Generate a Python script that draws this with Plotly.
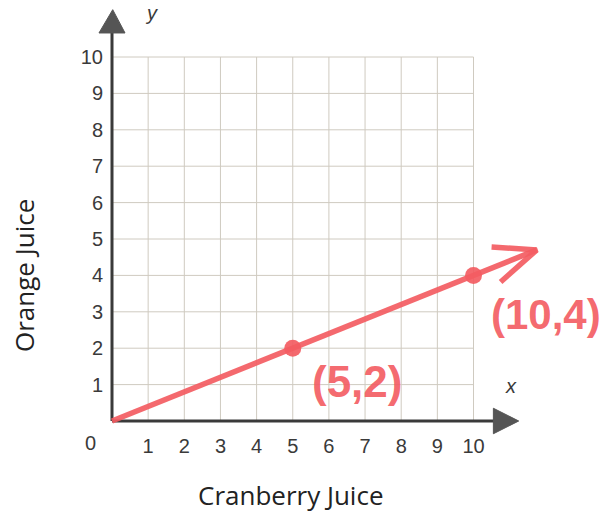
import plotly.graph_objects as go

# data
x_ticks = [1, 2, 3, 4, 5, 6, 7, 8, 9, 10]
y_ticks = [1, 2, 3, 4, 5, 6, 7, 8, 9, 10]
x_tick_labels = [str(v) for v in x_ticks]
y_tick_labels = [str(v) for v in y_ticks]
cranberry = [5, 10]
orange = [2, 4]
point_labels = ["(5,2)", "(10,4)"]
line_x = [0, 11.75]
line_y = [0, 4.7]
arrow_head_x = [10.5, 11.75, 10.75]
arrow_head_y = [4.78, 4.7, 3.82]

RED = "rgba(243,92,98,0.92)"
AX = "#3a3a3a"
GRID = "#cfcac0"
TXT = "#3a3a3a"

PX_X = 36.15  # px per unit
PX_Y = 36.4
X0, Y0 = 112, 421
W, H = 613, 516
xr = [-X0 / PX_X, (W - X0) / PX_X]
yr = [-(H - Y0) / PX_Y, Y0 / PX_Y]

fig = go.Figure()

# grid
gx, gy = [], []
for v in x_ticks:
    gx += [v, v, None]
    gy += [0, 10, None]
for v in y_ticks:
    gx += [0, 10, None]
    gy += [v, v, None]
fig.add_trace(go.Scatter(x=gx, y=gy, mode="lines",
                         line=dict(color=GRID, width=1), hoverinfo="skip"))

# axes lines
fig.add_trace(go.Scatter(x=[0, 0, None, 0, 10.6], y=[10.7, 0, None, 0, 0], mode="lines",
                         line=dict(color=AX, width=3), hoverinfo="skip"))
# axis arrowheads
fig.add_trace(go.Scatter(x=[-0.36, 0.02, 0.36, -0.36], y=[10.66, 11.3, 10.66, 10.66],
                         mode="lines", fill="toself", fillcolor="#555",
                         line=dict(color="#555", width=1), hoverinfo="skip"))
fig.add_trace(go.Scatter(x=[10.55, 11.25, 10.55, 10.55], y=[0.35, 0.0, -0.35, 0.35],
                         mode="lines", fill="toself", fillcolor="#555",
                         line=dict(color="#555", width=1), hoverinfo="skip"))

# red line & arrow
fig.add_trace(go.Scatter(x=line_x, y=line_y, mode="lines",
                         line=dict(color=RED, width=5.5), hoverinfo="skip"))
fig.add_trace(go.Scatter(x=arrow_head_x, y=arrow_head_y, mode="lines",
                         line=dict(color=RED, width=5.5), hoverinfo="skip"))
fig.add_trace(go.Scatter(x=cranberry, y=orange, mode="markers",
                         marker=dict(color=RED, size=17), hoverinfo="skip"))

tickfont = dict(family="Liberation Sans, Arial", size=20, color=TXT)
fig.update_layout(
    width=W, height=H, margin=dict(l=0, r=0, t=0, b=0),
    paper_bgcolor="white", plot_bgcolor="white", showlegend=False,
    xaxis=dict(range=xr, showgrid=False, zeroline=False, showline=False,
               tickvals=x_ticks, ticktext=x_tick_labels, ticks="",
               anchor="free", position=(H - Y0) / H, side="bottom",
               ticklabelstandoff=11, tickfont=tickfont),
    yaxis=dict(range=yr, showgrid=False, zeroline=False, showline=False,
               tickvals=y_ticks, ticktext=y_tick_labels, ticks="",
               anchor="free", position=X0 / W, side="left",
               ticklabelstandoff=9, tickfont=tickfont),
)

ann = []
ann.append(dict(x=-0.6, y=-0.6, text="0", showarrow=False, font=tickfont))
ann.append(dict(x=1.1, y=11.2, text="<i>y</i>", showarrow=False, font=tickfont))
ann.append(dict(x=11.05, y=0.95, text="<i>x</i>", showarrow=False, font=tickfont))
ann.append(dict(xref="paper", yref="paper", x=290 / W, y=1 - 495 / H, text="Cranberry Juice",
                xanchor="center", yanchor="middle",
                showarrow=False, font=dict(family="Open Sans", size=26, color="#222")))
ann.append(dict(xref="paper", yref="paper", x=24 / W, y=1 - 276 / H, text="Orange Juice",
                xanchor="center", yanchor="middle",
                showarrow=False, textangle=-90,
                font=dict(family="Open Sans", size=26, color="#222")))
ann.append(dict(x=(357 - X0) / PX_X, y=(Y0 - 381) / PX_Y, text=point_labels[0], showarrow=False,
                xanchor="center", yanchor="middle",
                font=dict(family="Liberation Sans", size=44, color=RED, weight="bold")))
ann.append(dict(x=(546 - X0) / PX_X, y=(Y0 - 314) / PX_Y, text=point_labels[1], showarrow=False,
                xanchor="center", yanchor="middle",
                font=dict(family="Liberation Sans", size=42, color=RED, weight="bold")))
fig.update_layout(annotations=ann)

fig.write_html("out.html", config={"displayModeBar": False},
               post_script="document.body.style.margin='0px';")
